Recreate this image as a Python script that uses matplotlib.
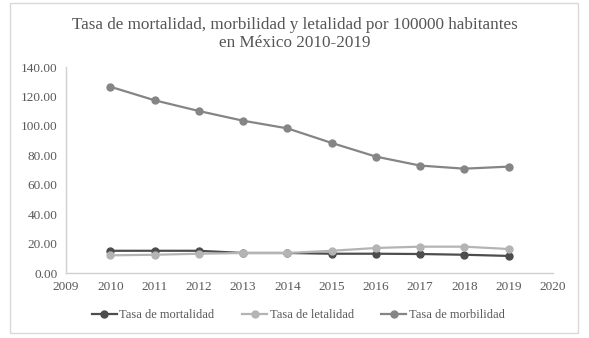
import matplotlib
matplotlib.use("Agg")
import matplotlib.pyplot as plt
from matplotlib.patches import Rectangle

years = [2010, 2011, 2012, 2013, 2014, 2015, 2016, 2017, 2018, 2019]
mortalidad = [15.1, 15.1, 15.1, 13.6, 13.6, 13.1, 13.1, 12.9, 12.4, 11.6]
letalidad = [12.0, 12.4, 13.1, 13.6, 13.6, 15.1, 17.0, 17.9, 17.9, 16.3]
morbilidad = [126.6, 117.4, 110.1, 103.5, 98.3, 88.4, 79.1, 73.0, 70.9, 72.3]
labels = ["Tasa de mortalidad", "Tasa de letalidad", "Tasa de morbilidad"]
title = "Tasa de mortalidad, morbilidad y letalidad por 100000 habitantes\nen México 2010-2019"

plt.rcParams['font.family'] = ['Liberation Serif', 'DejaVu Serif']

fig = plt.figure(figsize=(5.89, 3.38), dpi=100)
ax = fig.add_axes([66/589, 65/338, 487/589, 206/338])

fig.patches.append(Rectangle((10/589, 5/338), 568/589, 330/338, transform=fig.transFigure,
                             fill=False, edgecolor='#d9d9d9', linewidth=1))

ax.plot(years, mortalidad, color='#4d4d4d', marker='o', markersize=5, linewidth=1.6, label=labels[0])
ax.plot(years, letalidad, color='#b4b4b4', marker='o', markersize=5, linewidth=1.6, label=labels[1])
ax.plot(years, morbilidad, color='#858585', marker='o', markersize=5, linewidth=1.6, label=labels[2])

ax.set_xlim(2009, 2020)
ax.set_ylim(0, 140)
ax.set_xticks(range(2009, 2021))
ax.set_yticks(range(0, 141, 20))
ax.set_yticklabels([f"{v:.2f}" for v in range(0, 141, 20)])
ax.tick_params(length=0, labelsize=9.5, colors='#595959', pad=6)
for s in ['top', 'right']:
    ax.spines[s].set_visible(False)
for s in ['left', 'bottom']:
    ax.spines[s].set_color('#d0d0d0')
    ax.spines[s].set_linewidth(1)

fig.text(0.5, 0.95, title, ha='center', va='top', fontsize=12.3, color='#555555', linespacing=1.2,
         multialignment='center')

ax.legend(loc='upper center', bbox_to_anchor=(0.477, -0.12), ncol=3, frameon=False,
          fontsize=9, labelcolor='#595959', handlelength=2.0, handletextpad=0.2, columnspacing=2.2)

fig.savefig("out.png", dpi=100)
